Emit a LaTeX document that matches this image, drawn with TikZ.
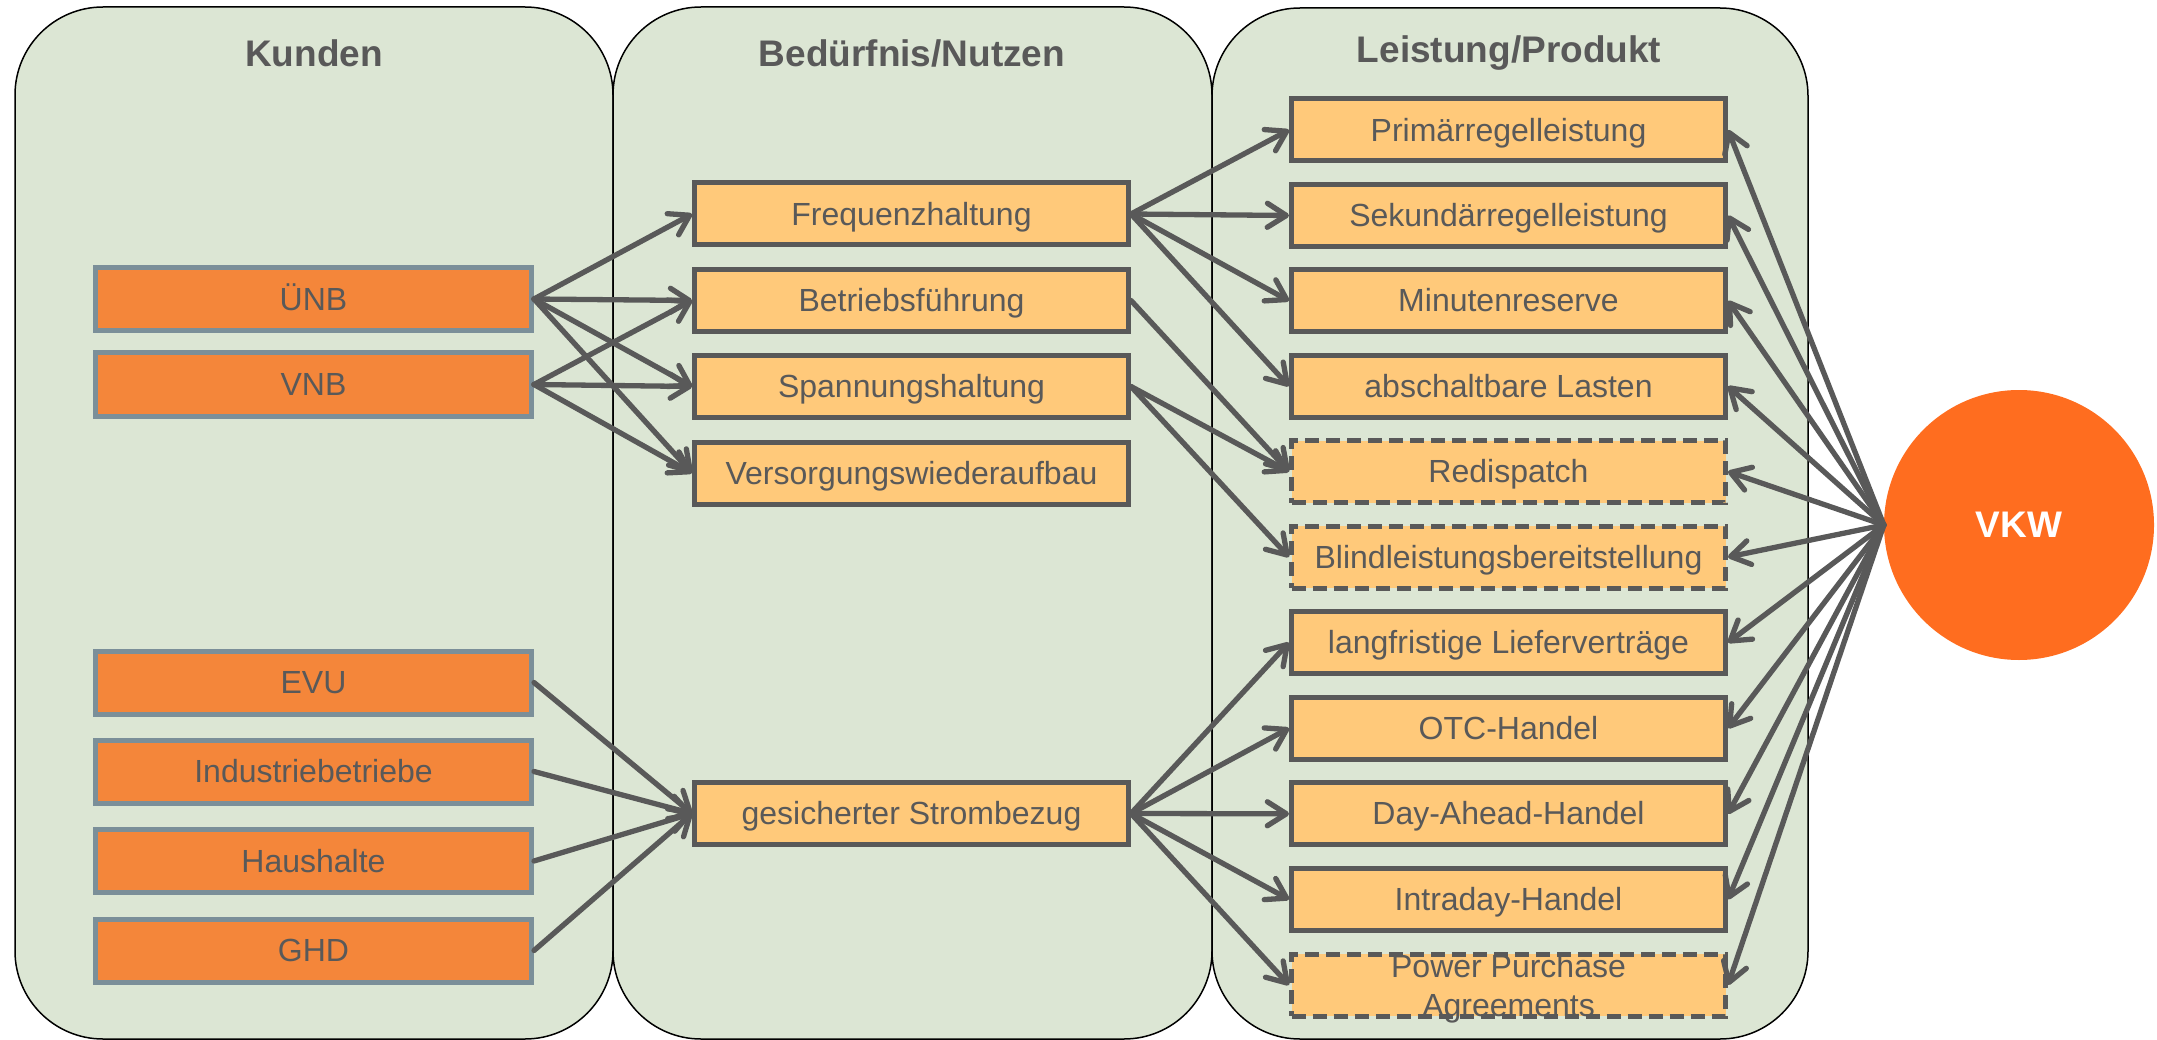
\documentclass[tikz,border=0pt]{standalone}
\usepackage{fontspec}
\setmainfont{Liberation Sans}
\usetikzlibrary{arrows.meta}
\definecolor{panelfill}{HTML}{DCE6D4}
\definecolor{txt}{HTML}{595959}
\definecolor{custfill}{HTML}{F4863A}
\definecolor{custline}{HTML}{7B8F99}
\definecolor{needfill}{HTML}{FFC97A}
\definecolor{vkwfill}{HTML}{FF6D1F}
\begin{document}
\begin{tikzpicture}[x=1pt,y=-1pt,
  panel/.style={draw=black, line width=1.5pt, fill=panelfill, rounded corners=88pt},
  head/.style={font=\fontsize{37}{44}\selectfont\bfseries, text=txt, inner sep=0pt},
  boxtext/.style={font=\fontsize{32}{36}\selectfont, text=txt, inner sep=0pt, text height=29pt, text depth=6.8pt},
  cust/.style={boxtext, draw=custline, line width=5pt, fill=custfill, minimum width=436pt, minimum height=63pt},
  need/.style={boxtext, draw=txt, line width=5pt, fill=needfill, minimum width=434pt, minimum height=62pt},
  prod/.style={need},
  prodd/.style={need, dash pattern=on 14pt off 7pt},
  conn/.style={draw=txt, line width=5.3pt, line cap=round, -{Straight Barb[round,length=19pt,width=24pt,line width=5.3pt]}},
]
\useasboundingbox (0,0) rectangle (2157,1040);
% panels
\draw[panel] (15,7) rectangle (613,1039);
\draw[panel] (613,7) rectangle (1212,1039);
\draw[panel] (1212,8) rectangle (1808,1039);
\node[head] (h1) at (314,53) {Kunden};
\node[head] (h2) at (912,53) {Bedürfnis/Nutzen};
\node[head] (h3) at (1509,53) {Leistung/Produkt};
% customers
\node[cust] (unb) at (313.5,299) {ÜNB};
\node[cust] (vnb) at (313.5,384.5) {VNB};
\node[cust] (evu) at (313.5,682.5) {EVU};
\node[cust] (ind) at (313.5,771.5) {Industriebetriebe};
\node[cust] (hh) at (313.5,861) {Haushalte};
\node[cust] (ghd) at (313.5,950.5) {GHD};
% needs
\node[need] (freq) at (911.5,214) {Frequenzhaltung};
\node[need] (betr) at (911.5,300.5) {Betriebsführung};
\node[need] (spann) at (911.5,386.5) {Spannungshaltung};
\node[need] (vers) at (911.5,473) {Versorgungswiederaufbau};
\node[need] (strom) at (911.5,813.5) {gesicherter Strombezug};
% products
\node[prod] (p1) at (1508.5,130) {Primärregelleistung};
\node[prod] (p2) at (1508.5,215.5) {Sekundärregelleistung};
\node[prod] (p3) at (1508.5,300.8) {Minutenreserve};
\node[prod] (p4) at (1508.5,386.2) {abschaltbare Lasten};
\node[prodd] (p5) at (1508.5,471.6) {Redispatch};
\node[prodd] (p6) at (1508.5,557) {Blindleistungsbereitstellung};
\node[prod] (p7) at (1508.5,642.6) {langfristige Lieferverträge};
\node[prod] (p8) at (1508.5,728.2) {OTC-Handel};
\node[prod] (p9) at (1508.5,813.8) {Day-Ahead-Handel};
\node[prod] (p10) at (1508.5,899.4) {Intraday-Handel};
\node[prodd, text height=0pt, text depth=16pt] (p11) at (1508.5,985) {\begin{tabular}[t]{@{}c@{}}Power Purchase\\[3pt]Agreements\end{tabular}};
% VKW
\node[circle, fill=vkwfill, minimum size=270pt, inner sep=0pt, text=white, font=\fontsize{37}{44}\selectfont\bfseries] (vkw) at (2019,525) {VKW};
% connectors customers -> needs
\foreach \t in {freq,betr,spann,vers} \draw[conn] (unb.east) -- (\t.west);
\foreach \t in {betr,spann,vers} \draw[conn] (vnb.east) -- (\t.west);
\foreach \s in {evu,ind,hh,ghd} \draw[conn] (\s.east) -- (strom.west);
% needs -> products
\foreach \t in {p1,p2,p3,p4} \draw[conn] (freq.east) -- (\t.west);
\draw[conn] (betr.east) -- (p5.west);
\draw[conn] (spann.east) -- (p5.west);
\draw[conn] (spann.east) -- (p6.west);
\foreach \t in {p7,p8,p9,p10,p11} \draw[conn] (strom.east) -- (\t.west);
% VKW -> products
\foreach \t in {p1,p2,p3,p4,p5,p6,p7,p8,p9,p10,p11} \draw[conn] (vkw.west) -- (\t.east);
\end{tikzpicture}
\end{document}
